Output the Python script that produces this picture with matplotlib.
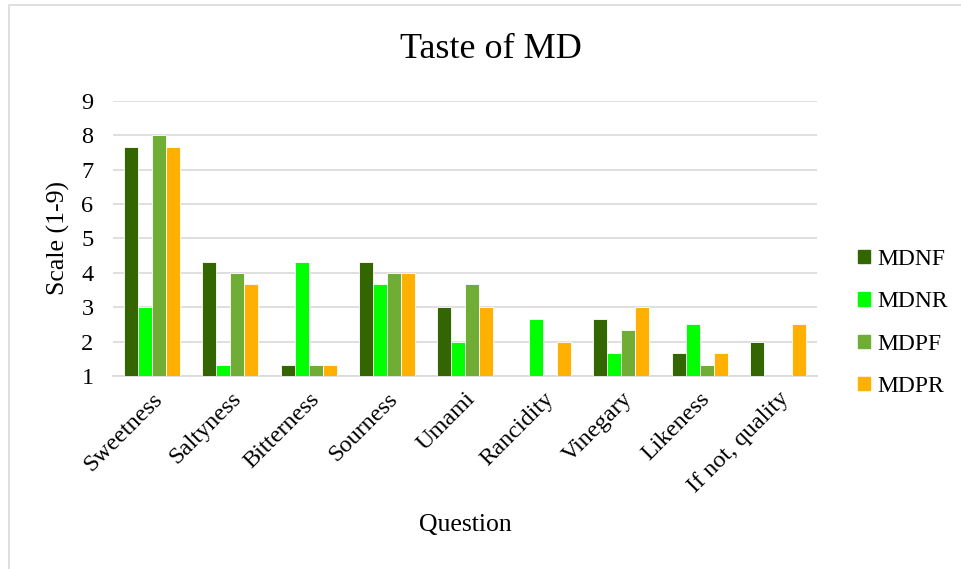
import numpy as np
import matplotlib
matplotlib.use('Agg')
import matplotlib.pyplot as plt
from matplotlib.patches import Rectangle, Patch

plt.rcParams['font.family'] = ['Liberation Serif', 'DejaVu Serif']

# taste scores per question
questions = ['Sweetness', 'Saltyness', 'Bitterness', 'Sourness', 'Umami',
             'Rancidity', 'Vinegary', 'Likeness', 'If not, quality']
mdnf = [7.67, 4.33, 1.33, 4.33, 3.0, np.nan, 2.67, 1.67, 2.0]
mdnr = [3.0, 1.33, 4.33, 3.67, 2.0, 2.67, 1.67, 2.5, np.nan]
mdpf = [8.0, 4.0, 1.33, 4.0, 3.67, np.nan, 2.33, 1.33, np.nan]
mdpr = [7.67, 3.67, 1.33, 4.0, 3.0, 2.0, 3.0, 1.67, 2.5]

series = {'MDNF': mdnf, 'MDNR': mdnr, 'MDPF': mdpf, 'MDPR': mdpr}
colors = ['#336600', '#00ff00', '#70ad34', '#ffb000']

fig = plt.figure(figsize=(9.61, 5.69), dpi=100)
# outer chart border
fig.patches.append(Rectangle((9 / 961, -0.05), 1.0, 1 - 5 / 569 + 0.05,
                             transform=fig.transFigure, fill=False,
                             edgecolor='#d9d9d9', linewidth=1.2))

ax = fig.add_axes([0.1176, 0.3392, 0.7326, 0.4833])

x = np.arange(len(questions))
width = 0.179
base = 1
for i, (name, vals) in enumerate(series.items()):
    heights = np.array(vals) - base
    ax.bar(x + (i - 1.5) * width, heights, width, bottom=base,
           color=colors[i], edgecolor='white', linewidth=0.6, label=name, zorder=3)

ax.set_ylim(1, 9)
ax.set_xlim(-0.5, len(questions) - 0.5)
ax.set_yticks(range(1, 10))
ax.yaxis.grid(True, color='#d9d9d9', linewidth=1.2, zorder=0)
for s in ['top', 'right', 'left']:
    ax.spines[s].set_visible(False)
ax.spines['bottom'].set_color('#d9d9d9')
ax.spines['bottom'].set_linewidth(1.2)
ax.tick_params(length=0, labelsize=17.5)
ax.tick_params(axis='y', pad=14)
ax.set_xticks(x)
ax.set_xticklabels(questions, rotation=45, ha='right', rotation_mode='anchor')
ax.tick_params(axis='x', pad=9)

ax.set_ylabel('Scale (1-9)', fontsize=18.5, labelpad=8)
fig.text(465 / 961, 1 - 525 / 569, 'Question', fontsize=18.5, ha='center', va='center')
fig.text(491 / 961, 1 - 50 / 569, 'Taste of MD', fontsize=26, ha='center', va='center')

handles = [Patch(color=c, label=n) for n, c in zip(series.keys(), colors)]
fig.legend(handles=handles, loc='center left', bbox_to_anchor=(858 / 961, 1 - 323 / 569),
           frameon=False, fontsize=17, handlelength=0.5, handleheight=0.5,
           handletextpad=0.3, labelspacing=0.9, borderpad=0, borderaxespad=0)

fig.savefig('out.png', dpi=100)
